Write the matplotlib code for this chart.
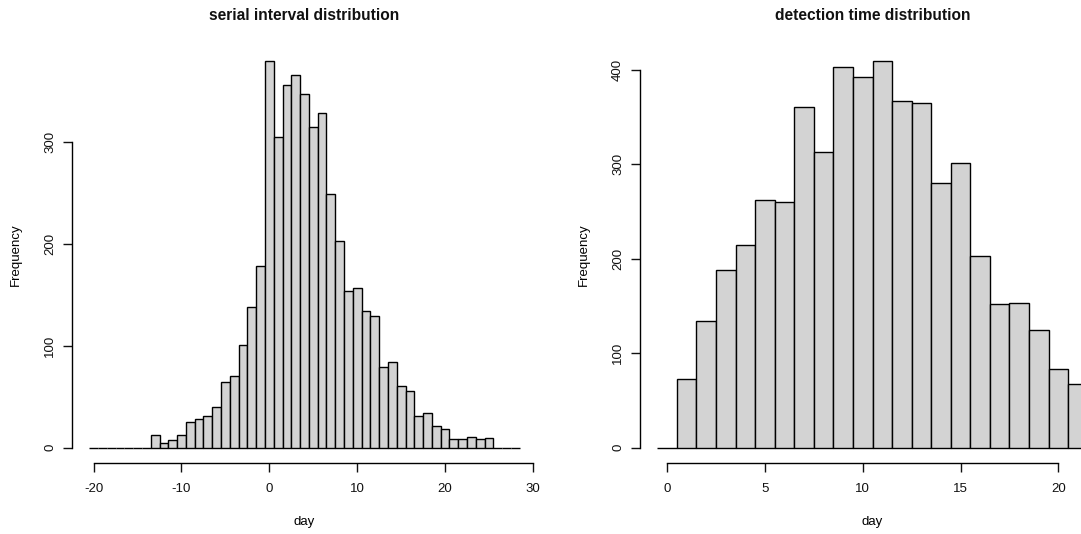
import matplotlib
matplotlib.use('Agg')
import matplotlib.pyplot as plt
import numpy as np

# serial interval histogram, one bin per day, centred on -20 .. 28
serial_days = list(range(-20, 29))
serial_counts = [0, 0, 0, 0, 0, 0, 0,
                 12, 4, 7, 12, 25, 28, 31, 40, 64, 70, 101, 138, 178,
                 379, 305, 356, 366, 347, 315, 328, 249, 203, 154, 157,
                 134, 129, 79, 84, 60, 56, 31, 34, 21, 18, 8, 8, 10, 8, 9,
                 0, 0, 0]
serial_xticks = [-20, -10, 0, 10, 20, 30]
serial_yticks = [0, 100, 200, 300]

# detection time histogram, one bin per day, centred on 0 .. 21
detect_days = list(range(0, 22))
detect_counts = [0, 73, 134, 188, 215, 262, 260, 361, 313, 403, 393, 409,
                 367, 365, 280, 301, 203, 152, 153, 124, 83, 67]
detect_xticks = [0, 5, 10, 15, 20]
detect_yticks = [0, 100, 200, 300, 400]

plt.rcParams['font.family'] = ['Liberation Sans', 'DejaVu Sans']
plt.rcParams['text.color'] = '#111111'
plt.rcParams['axes.unicode_minus'] = False


def r_hist(ax, days, counts, xticks, yticks, title):
    '''draws a histogram looking like base R hist()'''
    days = np.array(days)
    counts = np.array(counts)
    ax.bar(days, counts, width=1.0, color='#D3D3D3', edgecolor='black', linewidth=1.0)

    # R extends the usr range by 4% on each side
    lo, hi = days[0] - 0.5, days[-1] + 0.5
    ext = 0.04 * (hi - lo)
    ax.set_xlim(lo - ext, hi + ext)
    ymax = counts.max()
    ax.set_ylim(-0.04 * ymax, ymax * 1.04)

    for side in ['top', 'right']:
        ax.spines[side].set_visible(False)
    ax.spines['left'].set_bounds(yticks[0], yticks[-1])
    ax.spines['bottom'].set_bounds(xticks[0], xticks[-1])
    ax.spines['left'].set_linewidth(1.0)
    ax.spines['bottom'].set_linewidth(1.0)

    ax.set_xticks(xticks)
    ax.set_yticks(yticks)
    ax.tick_params(axis='both', length=6.5, width=1.0, labelsize=9.5, colors='#111111')
    ax.tick_params(axis='x', pad=8)
    ax.tick_params(axis='y', labelrotation=90, pad=5)
    for lab in ax.get_yticklabels():
        lab.set_va('center')

    ax.set_xlabel('day', fontsize=9.5, labelpad=15)
    ax.set_ylabel('Frequency', fontsize=9.5, labelpad=16)
    ax.set_title(title, fontsize=11.2, fontweight='bold', pad=19)


fig = plt.figure(figsize=(10.81, 5.34), dpi=100)
ax1 = fig.add_axes([72 / 1081, 71 / 534, 465 / 1081, 417 / 534])
ax2 = fig.add_axes([640 / 1081, 71 / 534, 465 / 1081, 417 / 534])

r_hist(ax1, serial_days, serial_counts, serial_xticks, serial_yticks, 'serial interval distribution')
r_hist(ax2, detect_days, detect_counts, detect_xticks, detect_yticks, 'detection time distribution')

fig.savefig('out.png', dpi=100)
